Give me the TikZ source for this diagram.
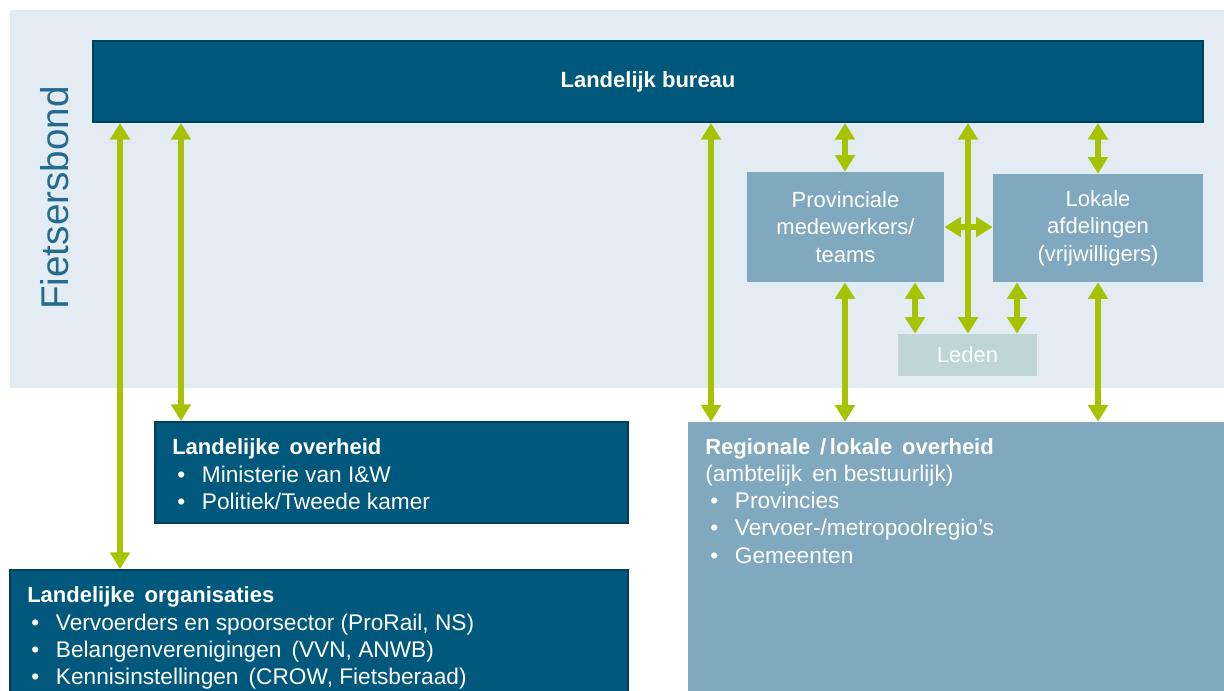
\documentclass[tikz,border=0pt]{standalone}
\usepackage{fontspec}
\setmainfont{Liberation Sans}
\usetikzlibrary{arrows.meta,fit}
\definecolor{bgl}{HTML}{E4ECF3}
\definecolor{dblue}{HTML}{00587C}
\definecolor{dborder}{HTML}{00405E}
\definecolor{mblue}{HTML}{80A9BF}
\definecolor{ledenc}{HTML}{BFD5D7}
\definecolor{lgreen}{HTML}{A5C300}
\definecolor{tealc}{HTML}{236C8E}
\begin{document}
\begin{tikzpicture}[x=0.75pt,y=-0.75pt,
  darkbox/.style={inner sep=0pt, fill=dblue, draw=dborder, line width=1.5pt},
  midbox/.style={inner sep=0pt, fill=mblue, draw=none},
  boxtext/.style={inner sep=0pt, text=white, align=center, font=\fontsize{16.5}{20.5}\selectfont},
  txt/.style={anchor=base west, inner sep=0pt, text=white, font=\fontsize{17}{19}\selectfont},
  ttl/.style={txt, font=\bfseries\fontsize{16.5}{19}\selectfont},
  dbl/.style={line width=4.5pt, draw=lgreen, {Triangle[width=14.5pt,length=12.5pt]}-{Triangle[width=14.5pt,length=12.5pt]}}
]
\useasboundingbox (0,0) rectangle (1224,691);
\fill[bgl] (10,10) rectangle (1224,388);
\node[rotate=90, text=tealc, font=\fontsize{29}{34}\selectfont] (fb) at (55,198) {Fietsersbond};

\node[darkbox, fit={(93,41) (1203,122)}] (bureau) {};
\node[midbox, fit={(747,172) (944,282)}] (prov) {};
\node[midbox, fit={(993,174) (1203,282)}] (lokale) {};
\node[inner sep=0pt, fill=ledenc, fit={(898,334) (1037,376)}] (leden) {};
\node[boxtext, font=\bfseries\fontsize{16.5}{20}\selectfont] (bureaut) at (bureau.center) {Landelijk bureau};
\node[boxtext] (provt) at (prov.center) {Provinciale\\medewerkers/\\teams};
\node[boxtext] (lokalet) at (lokale.center) {Lokale\\afdelingen\\(vrijwilligers)};
\node[boxtext, text=white!93!ledenc] (ledent) at (leden.center) {Leden};

\node[darkbox, fit={(155,422) (628,523)}] (lo) {};
\node[darkbox, fit={(10,570) (628,705)}] (lorg) {};
\node[midbox, fit={(688,422) (1235,705)}] (reg) {};

% Landelijke overheid
\node[ttl] (lo1) at (172,454) {Landelijke\, overheid};
\node[txt] (lo2) at (177,482) {\makebox[18.5pt][l]{•}Ministerie van I\&W};
\node[txt] (lo3) at (177,509) {\makebox[18.5pt][l]{•}Politiek/Tweede kamer};
% Landelijke organisaties
\node[ttl] (lg1) at (27,602) {Landelijke\, organisaties};
\node[txt] (lg2) at (31,630) {\makebox[18.5pt][l]{•}Vervoerders en spoorsector (ProRail, NS)};
\node[txt] (lg3) at (31,657) {\makebox[18.5pt][l]{•}Belangenverenigingen\, (VVN, ANWB)};
\node[txt] (lg4) at (31,684) {\makebox[18.5pt][l]{•}Kennisinstellingen\, (CROW, Fietsberaad)};
% Regionale
\node[ttl] (rg1) at (705,454) {Regionale\, /\,lokale\, overheid};
\node[txt] (rg2) at (705,481) {(ambtelijk\, en bestuurlijk)};
\node[txt] (rg3) at (710,508) {\makebox[18.5pt][l]{•}Provincies};
\node[txt] (rg4) at (710,535) {\makebox[18.5pt][l]{•}Vervoer-/metropoolregio’s};
\node[txt] (rg5) at (710,563) {\makebox[18.5pt][l]{•}Gemeenten};

% arrows
\draw[dbl] (120,0 |- bureau.south) -- (120,0 |- lorg.north);
\draw[dbl] (181,0 |- bureau.south) -- (181,0 |- lo.north);
\draw[dbl] (711,0 |- bureau.south) -- (711,0 |- reg.north);
\draw[dbl] (845,0 |- bureau.south) -- (845,0 |- prov.north);
\draw[dbl] (1098,0 |- bureau.south) -- (1098,0 |- lokale.north);
\draw[dbl] (prov.east) -- (prov.east -| lokale.west);
\draw[dbl] (968,0 |- bureau.south) -- (968,0 |- leden.north);
\draw[dbl] (845,0 |- prov.south) -- (845,0 |- reg.north);
\draw[dbl] (915,0 |- prov.south) -- (915,0 |- leden.north);
\draw[dbl] (1017,0 |- lokale.south) -- (1017,0 |- leden.north);
\draw[dbl] (1098,0 |- lokale.south) -- (1098,0 |- reg.north);
\end{tikzpicture}
\end{document}
